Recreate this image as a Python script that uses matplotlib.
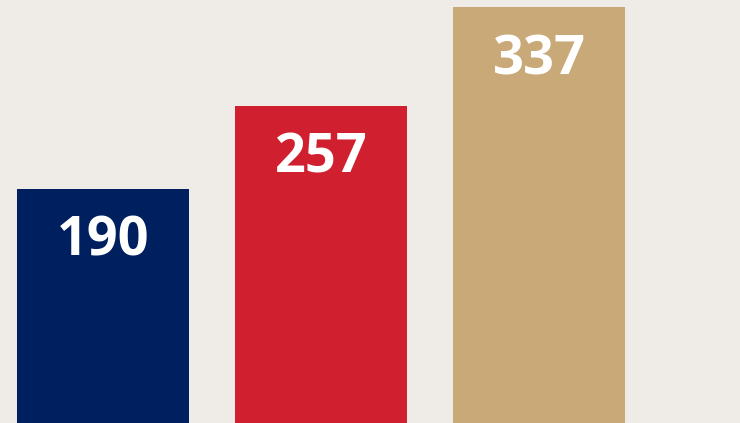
import matplotlib.pyplot as plt

values = [190, 257, 337]
labels = ["190", "257", "337"]
colors = ["#001F5F", "#D01F2E", "#C9A977"]

fig = plt.figure(figsize=(7.4, 4.23), dpi=100)
fig.patch.set_facecolor("#EFECE8")
ax = fig.add_axes([0, 0, 1, 1])
ax.set_facecolor("#EFECE8")

x = range(len(values))
ax.bar(x, values, width=0.789, color=colors)

for xi, v, lab in zip(x, values, labels):
    ax.annotate(lab, xy=(xi, v), xytext=(0, -67), textcoords="offset pixels",
                ha="center", va="baseline", color="white",
                fontsize=39, fontweight="bold", family="Open Sans")

ax.set_xlim(-0.4725, 2.922)
ax.set_ylim(0, 342.8)
ax.axis("off")

fig.savefig("out.png", dpi=100, facecolor=fig.get_facecolor())
